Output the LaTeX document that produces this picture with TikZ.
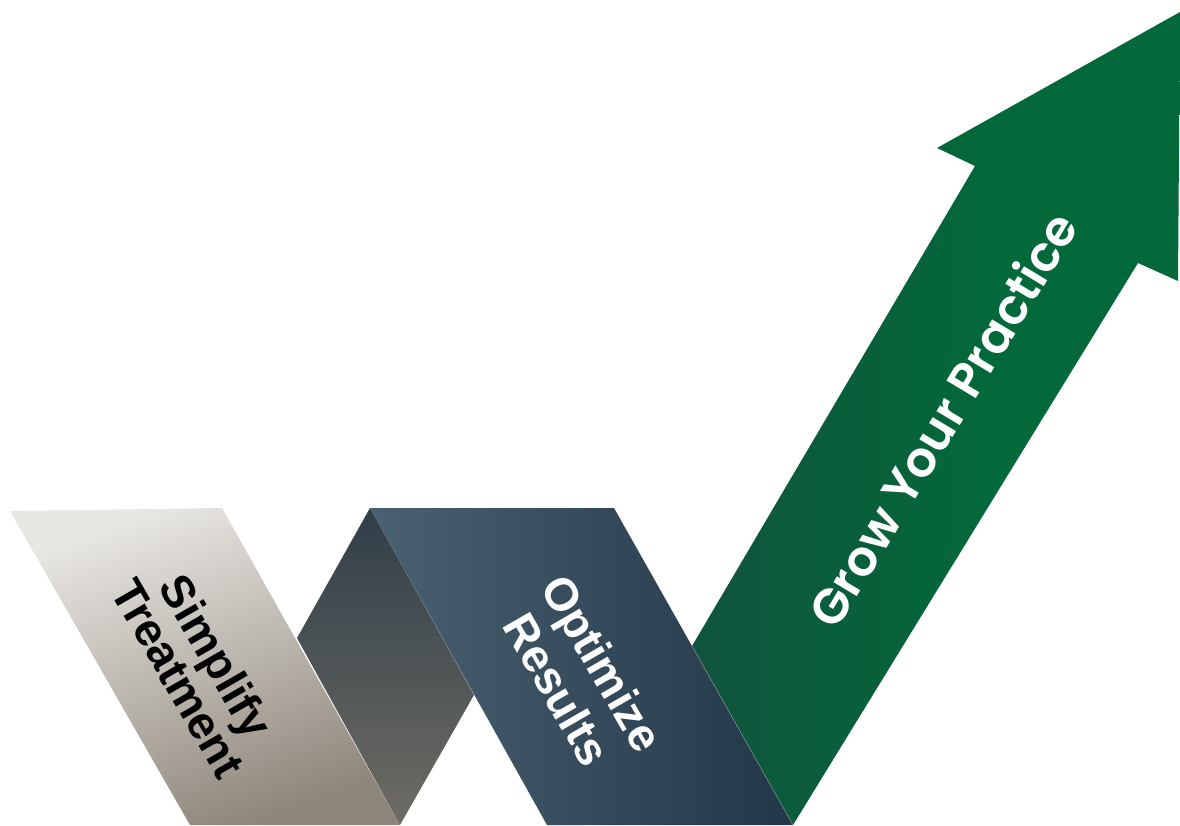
\documentclass[tikz,border=0pt]{standalone}
\usepackage{fontspec}
\setmainfont{Liberation Sans}
\newfontfamily\pop{Poppins SemiBold}
\definecolor{beigeL}{HTML}{E9E7E4}
\definecolor{beigeD}{HTML}{8D8579}
\definecolor{foldT}{HTML}{303E48}
\definecolor{foldB}{HTML}{6E6C64}
\definecolor{blueL}{HTML}{4A6172}
\definecolor{blueR}{HTML}{223747}
\definecolor{greenL}{HTML}{1B4340}
\definecolor{greenR}{HTML}{03683A}
\definecolor{seam}{HTML}{7D8D95}
\pgfdeclarehorizontalshading{greenshade}{100bp}{color(0bp)=(greenL); color(55bp)=(greenR); color(100bp)=(greenR)}
\tikzset{
  stripnote/.style={font=\bfseries\fontsize{46}{46}\selectfont, align=center, inner sep=0pt},
  grownote/.style={font=\pop\fontsize{49}{49}\selectfont, text=white, inner sep=0pt}
}
\begin{document}
\begin{tikzpicture}[x=1pt,y=1pt]
\useasboundingbox (0,0) rectangle (1180,-825);
% beige strip
\coordinate (b1) at (10,-511);
\coordinate (b2) at (222,-508);
\coordinate (b3) at (400,-825);
\coordinate (b4) at (190,-825);
% fold
\coordinate (f1) at (297,-638);
\coordinate (f2) at (370,-508);
\coordinate (f3) at (474,-695);
% blue strip
\coordinate (u2) at (614,-508);
\coordinate (u3) at (793,-825);
\coordinate (u4) at (547,-825);
% green arrow
\coordinate (g1) at (692,-646);
\coordinate (g2) at (975,-166);
\coordinate (g3) at (937,-148);
\coordinate (g4) at (1180,-12);
\coordinate (g5) at (1178,-281);
\coordinate (g6) at (1138,-263);

\shade[top color=beigeL, bottom color=beigeD, shading angle=20] (b1)--(b2)--(b3)--(b4)--cycle;
\shade[top color=foldT, bottom color=foldB] (f1)--(f2)--(f3)--(b3)--cycle;
\shade[left color=blueL, right color=blueR] (f2)--(u2)--(u3)--(u4)--cycle;
\shade[shading=greenshade] (g1)--(g2)--(g3)--(g4)--(g5)--(g6)--(u3)--cycle;
\draw[seam, line width=0.5pt] (u3)--(g1);

\node[stripnote, text=black, rotate=-60, text depth=0pt] (simp) at (198,-667) {Simplify\\[-2pt]Treatment};
\node[stripnote, text=white, rotate=-60] (opt) at (580,-676) {Optimize\\[6pt]Results};
\node[grownote, rotate=59] (grow) at (942,-419) {Grow Your Practice};
\end{tikzpicture}
\end{document}
